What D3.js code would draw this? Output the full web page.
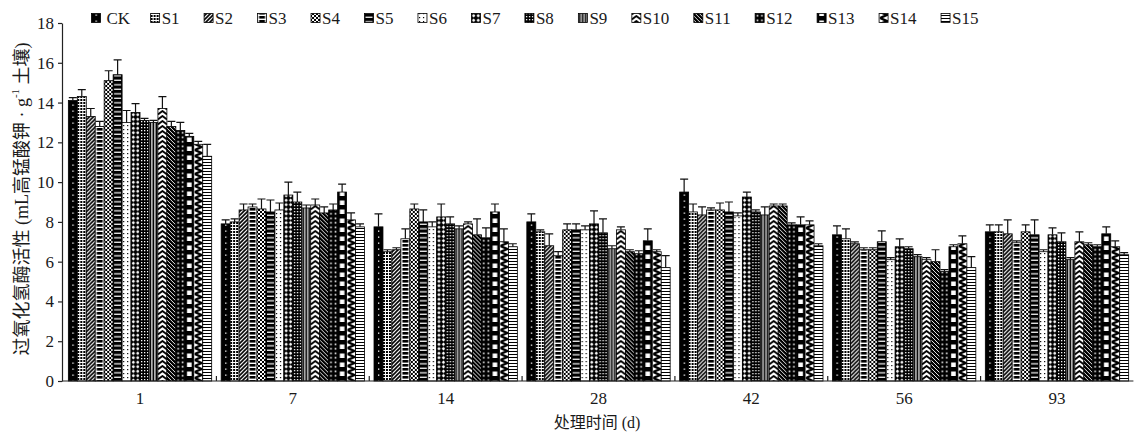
<!DOCTYPE html>
<html>
<head>
<meta charset="utf-8">
<script src="https://cdn.jsdelivr.net/npm/d3@7"></script>
<style>
  html, body { margin: 0; padding: 0; background: #fff; }
  text { font-family: "Liberation Serif", "Noto Sans CJK SC", serif; fill: #1a1a1a; }
</style>
</head>
<body>
<script>
// Sampling days (treatment time, d) and treatments
const days = ["1", "7", "14", "28", "42", "56", "93"];
const series = ["CK", "S1", "S2", "S3", "S4", "S5", "S6", "S7", "S8", "S9", "S10", "S11", "S12", "S13", "S14", "S15"];
const yTicks = [0, 2, 4, 6, 8, 10, 12, 14, 16, 18];

// Catalase activity per day, one value per treatment (CK, S1 … S15)
const day1  = [14.1, 14.3, 13.3, 12.8, 15.1, 15.4, 13.0, 13.5, 13.1, 13.0, 13.7, 12.8, 12.6, 12.3, 11.9, 11.3];
const day7  = [7.9, 8.0, 8.6, 8.75, 8.65, 8.5, 8.6, 9.35, 9.0, 8.7, 8.85, 8.45, 8.6, 9.5, 8.1, 7.75];
const day14 = [7.75, 6.5, 6.6, 7.15, 8.65, 8.0, 7.75, 8.25, 7.9, 7.65, 7.9, 7.35, 7.2, 8.5, 7.0, 6.75];
const day28 = [8.0, 7.5, 6.8, 6.3, 7.6, 7.6, 7.6, 7.9, 7.45, 6.65, 7.6, 6.5, 6.4, 7.05, 6.5, 5.7];
const day42 = [9.5, 8.5, 8.35, 8.6, 8.6, 8.5, 8.3, 9.25, 8.5, 8.35, 8.8, 8.8, 7.85, 7.85, 7.85, 6.8];
const day56 = [7.35, 7.15, 6.9, 6.6, 6.6, 7.0, 6.1, 6.75, 6.65, 6.25, 6.1, 6.0, 5.5, 6.75, 6.9, 5.7];
const day93 = [7.5, 7.5, 7.4, 6.95, 7.5, 7.35, 6.5, 7.35, 7.0, 6.1, 7.0, 6.85, 6.75, 7.4, 6.75, 6.35];

// Standard deviations (upper error bars)
const sd1  = [0.15, 0.35, 0.4, 0.25, 0.5, 0.75, 0.6, 0.45, 0.1, 0.1, 0.6, 0.25, 0.4, 0.15, 0.15, 0.6];
const sd7  = [0.2, 0.15, 0.3, 0.15, 0.5, 0.6, 0.35, 0.65, 0.5, 0.15, 0.3, 0.3, 0.3, 0.4, 0.35, 0.15];
const sd14 = [0.65, 0.1, 0.1, 0.5, 0.25, 0.6, 0.25, 0.65, 0.35, 0.15, 0.1, 0.8, 0.5, 0.4, 0.65, 0.15];
const sd28 = [0.4, 0.1, 0.6, 0.2, 0.3, 0.3, 0.2, 0.65, 0.7, 0.15, 0.15, 0.1, 0.15, 0.6, 0.1, 0.6];
const sd42 = [0.65, 0.4, 0.4, 0.1, 0.35, 0.5, 0.15, 0.25, 0.1, 0.4, 0.1, 0.1, 0.1, 0.4, 0.2, 0.1];
const sd56 = [0.45, 0.5, 0.1, 0.1, 0.1, 0.55, 0.1, 0.4, 0.1, 0.1, 0.1, 0.6, 0.1, 0.1, 0.4, 0.55];
const sd93 = [0.35, 0.35, 0.7, 0.1, 0.35, 0.75, 0.1, 0.35, 0.45, 0.1, 0.5, 0.1, 0.1, 0.35, 0.3, 0.1];

const meansByDay = [day1, day7, day14, day28, day42, day56, day93];
const sdsByDay = [sd1, sd7, sd14, sd28, sd42, sd56, sd93];

const rows = [];
days.forEach((d, i) => {
  series.forEach((s, j) => {
    rows.push({ day: d, key: s, idx: j, value: meansByDay[i][j], sd: sdsByDay[i][j] });
  });
});

const W = 1134, H = 434;
const svg = d3.select("body").append("svg").attr("width", W).attr("height", H);
const defs = svg.append("defs");

// ---- monochrome fill patterns, one per treatment ----
const patternBuilders = [
  // CK: black with small white specks
  p => { p.attr("width", 9).attr("height", 6);
         p.append("rect").attr("width", 9).attr("height", 6).attr("fill", "#000");
         p.append("rect").attr("x", 4).attr("y", 2.5).attr("width", 1.3).attr("height", 1.3).attr("fill", "#fff"); },
  // S1: fine dot screen
  p => { p.attr("width", 3).attr("height", 3);
         p.append("rect").attr("width", 3).attr("height", 3).attr("fill", "#fff");
         p.append("rect").attr("width", 2).attr("height", 2).attr("fill", "#000"); },
  // S2: forward diagonal hatch
  p => { p.attr("width", 4).attr("height", 4);
         p.append("rect").attr("width", 4).attr("height", 4).attr("fill", "#fff");
         p.append("path").attr("d", "M-1,1 L1,-1 M0,4 L4,0 M3,5 L5,3").attr("stroke", "#000").attr("stroke-width", 1.6); },
  // S3: ladder of black cells
  p => { p.attr("width", 9).attr("height", 4);
         p.append("rect").attr("width", 9).attr("height", 4).attr("fill", "#fff");
         p.append("rect").attr("x", 1.5).attr("width", 6).attr("height", 2.6).attr("fill", "#000"); },
  // S4: cross-hatch
  p => { p.attr("width", 4).attr("height", 4);
         p.append("rect").attr("width", 4).attr("height", 4).attr("fill", "#fff");
         p.append("path").attr("d", "M0,0 L4,4 M4,0 L0,4").attr("stroke", "#000").attr("stroke-width", 1); },
  // S5: black with thin white horizontal lines
  p => { p.attr("width", 9).attr("height", 4.5);
         p.append("rect").attr("width", 9).attr("height", 4.5).attr("fill", "#000");
         p.append("rect").attr("x", 1).attr("y", 3.2).attr("width", 7).attr("height", 1.2).attr("fill", "#fff"); },
  // S6: white with sparse dots
  p => { p.attr("width", 4).attr("height", 4);
         p.append("rect").attr("width", 4).attr("height", 4).attr("fill", "#fff");
         p.append("rect").attr("x", 1).attr("y", 1).attr("width", 1.2).attr("height", 1.2).attr("fill", "#000"); },
  // S7: black with white lozenges
  p => { p.attr("width", 4.5).attr("height", 4.5);
         p.append("rect").attr("width", 4.5).attr("height", 4.5).attr("fill", "#000");
         p.append("path").attr("d", "M2.25,0.5 L4,2.25 L2.25,4 L0.5,2.25Z").attr("fill", "#fff"); },
  // S8: dark speckled grey
  p => { p.attr("width", 3).attr("height", 3);
         p.append("rect").attr("width", 3).attr("height", 3).attr("fill", "#000");
         p.append("rect").attr("x", 1).attr("y", 1).attr("width", 1.3).attr("height", 1.3).attr("fill", "#fff"); },
  // S9: vertical lines
  p => { p.attr("width", 3).attr("height", 3);
         p.append("rect").attr("width", 3).attr("height", 3).attr("fill", "#fff");
         p.append("rect").attr("x", 0.5).attr("width", 1.8).attr("height", 3).attr("fill", "#000"); },
  // S10: stacked chevrons
  p => { p.attr("width", 9).attr("height", 5);
         p.append("rect").attr("width", 9).attr("height", 5).attr("fill", "#fff");
         p.append("path").attr("d", "M0,4.5 L4.5,1 L9,4.5").attr("fill", "none").attr("stroke", "#000").attr("stroke-width", 1.8); },
  // S11: dark backward diagonal
  p => { p.attr("width", 4).attr("height", 4);
         p.append("rect").attr("width", 4).attr("height", 4).attr("fill", "#000");
         p.append("path").attr("d", "M-1,3 L1,5 M0,0 L4,4 M3,-1 L5,1").attr("stroke", "#fff").attr("stroke-width", 0.9); },
  // S12: black with small white squares
  p => { p.attr("width", 4.5).attr("height", 4.5);
         p.append("rect").attr("width", 4.5).attr("height", 4.5).attr("fill", "#000");
         p.append("rect").attr("x", 1.5).attr("y", 1.5).attr("width", 1.6).attr("height", 1.6).attr("fill", "#fff"); },
  // S13: black with large white blocks
  p => { p.attr("width", 9).attr("height", 9);
         p.append("rect").attr("width", 9).attr("height", 9).attr("fill", "#000");
         p.append("rect").attr("x", 2.2).attr("y", 2.5).attr("width", 4.6).attr("height", 4.5).attr("fill", "#fff"); },
  // S14: zigzag
  p => { p.attr("width", 9).attr("height", 6);
         p.append("rect").attr("width", 9).attr("height", 6).attr("fill", "#fff");
         p.append("path").attr("d", "M1,0 L7.5,3 L1,6").attr("fill", "none").attr("stroke", "#000").attr("stroke-width", 2.4); },
  // S15: thin horizontal lines
  p => { p.attr("width", 9).attr("height", 3);
         p.append("rect").attr("width", 9).attr("height", 3).attr("fill", "#fff");
         p.append("rect").attr("width", 9).attr("height", 1).attr("fill", "#000"); }
];

series.forEach((s, j) => {
  const p = defs.append("pattern").attr("id", "pat-" + s).attr("patternUnits", "userSpaceOnUse");
  patternBuilders[j](p);
});

// ---- scales ----
const y = d3.scaleLinear().domain([0, 18]).range([381, 23]);
const x0 = d3.scaleBand().domain(days).range([63.6, 1133.4]).paddingInner(0).paddingOuter(0);
const x1 = d3.scaleBand().domain(series).range([0, x0.bandwidth()]).paddingInner(0).paddingOuter(0.53);
const axisX = 62;

// ---- bars ----
const bars = svg.append("g").selectAll("g.bar").data(rows).join("g")
  .attr("class", "bar")
  .attr("transform", d => `translate(${x0(d.day) + x1(d.key)},0)`);

bars.append("rect")
  .attr("x", 0)
  .attr("y", d => y(d.value))
  .attr("width", x1.bandwidth())
  .attr("height", d => y(0) - y(d.value))
  .attr("fill", d => `url(#pat-${d.key})`)
  .attr("stroke", "#000")
  .attr("stroke-width", 0.8);

// ---- error bars (upper) ----
const capHalf = 4;
bars.append("path")
  .attr("d", d => {
    const cx = x1.bandwidth() / 2;
    const yt = y(d.value + d.sd), yb = y(d.value);
    return `M${cx},${yb}V${yt}M${cx - capHalf},${yt}H${cx + capHalf}`;
  })
  .attr("fill", "none")
  .attr("stroke", "#111")
  .attr("stroke-width", 1.2);

// ---- y axis ----
const yAxis = svg.append("g")
  .attr("transform", `translate(${axisX},0)`)
  .call(d3.axisLeft(y).tickValues(yTicks).tickSize(4).tickSizeOuter(0).tickPadding(4));
yAxis.select(".domain").attr("stroke", "#222").attr("stroke-width", 1.2);
yAxis.selectAll(".tick line").attr("stroke", "#222").attr("stroke-width", 1.2);
yAxis.selectAll(".tick text").style("font-size", "17px").attr("fill", "#1a1a1a");

// ---- x axis ----
const xAxis = svg.append("g")
  .attr("transform", `translate(0,${y(0)})`)
  .call(d3.axisBottom(x0).tickSize(0).tickPadding(11));
xAxis.select(".domain").remove();
xAxis.selectAll(".tick text").style("font-size", "17px").attr("fill", "#1a1a1a");
svg.append("line")
  .attr("x1", axisX).attr("x2", x0.range()[1])
  .attr("y1", y(0)).attr("y2", y(0))
  .attr("stroke", "#222").attr("stroke-width", 1.2);
// separators between sampling days
svg.append("g").selectAll("line").data(days.slice(1)).join("line")
  .attr("x1", d => x0(d)).attr("x2", d => x0(d))
  .attr("y1", y(0)).attr("y2", y(0) - 5)
  .attr("stroke", "#222").attr("stroke-width", 1.2);

// ---- axis titles ----
const yTitle = svg.append("text")
  .attr("transform", "translate(22,199) rotate(-90)")
  .attr("text-anchor", "middle")
  .attr("dominant-baseline", "central")
  .style("font-size", "18px");
yTitle.append("tspan").text("过氧化氢酶活性 (mL高锰酸钾 · g");
yTitle.append("tspan").attr("dy", -7).style("font-size", "11px").text("-1");
yTitle.append("tspan").attr("dy", 7).text(" 土壤)");

svg.append("text")
  .attr("x", 597).attr("y", 428)
  .attr("text-anchor", "middle")
  .style("font-size", "16px")
  .text("处理时间 (d)");

// ---- legend ----
const legend = svg.append("g");
let lx = 91.5;
series.forEach((s, i) => {
  const g = legend.append("g").attr("transform", `translate(${lx},0)`);
  g.append("rect").attr("x", 0).attr("y", 13.5).attr("width", 9).attr("height", 9)
    .attr("fill", `url(#pat-${s})`).attr("stroke", "#000").attr("stroke-width", 0.8);
  const t = g.append("text").attr("x", i === 0 ? 15 : 11).attr("y", 23.5).style("font-size", "17px").text(s);
  lx += t.node().getComputedTextLength() + 35.5;
});
</script>
</body>
</html>
